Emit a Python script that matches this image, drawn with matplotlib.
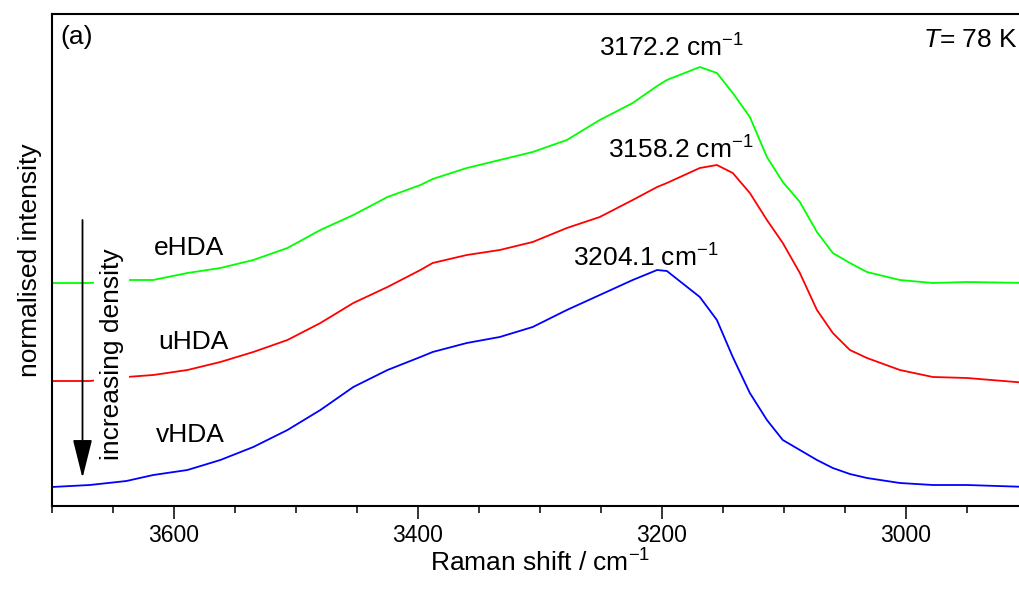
import matplotlib
matplotlib.use('Agg')
import matplotlib.pyplot as plt
from matplotlib.ticker import MultipleLocator

# raman OH-stretch spectra of the HDA states
# y values are the stacked (offset) normalised intensities
wavenumber = [3700, 3669, 3639, 3617, 3589, 3562, 3535, 3507, 3480, 3453,
              3425, 3398, 3388, 3360, 3333, 3306, 3278, 3251, 3224, 3204,
              3196, 3169, 3155, 3142, 3128, 3114, 3101, 3087, 3073, 3060,
              3046, 3032, 3005, 2978, 2950, 2900]

eHDA = [2.23, 2.23, 2.26, 2.26, 2.33, 2.38, 2.46, 2.58, 2.76, 2.91,
        3.09, 3.21, 3.27, 3.38, 3.46, 3.54, 3.66, 3.86, 4.03, 4.20,
        4.26, 4.39, 4.33, 4.13, 3.89, 3.49, 3.24, 3.04, 2.74, 2.53,
        2.43, 2.34, 2.26, 2.23, 2.24, 2.23]

uHDA = [1.25, 1.25, 1.29, 1.31, 1.36, 1.44, 1.54, 1.66, 1.83, 2.03,
        2.19, 2.36, 2.43, 2.51, 2.56, 2.64, 2.78, 2.89, 3.06, 3.19,
        3.23, 3.38, 3.41, 3.33, 3.13, 2.86, 2.63, 2.33, 1.96, 1.73,
        1.56, 1.48, 1.36, 1.29, 1.28, 1.23]

vHDA = [0.19, 0.21, 0.25, 0.31, 0.36, 0.46, 0.59, 0.76, 0.96, 1.19,
        1.36, 1.49, 1.54, 1.63, 1.69, 1.79, 1.96, 2.11, 2.26, 2.36,
        2.35, 2.09, 1.86, 1.49, 1.13, 0.86, 0.66, 0.56, 0.46, 0.38,
        0.32, 0.28, 0.23, 0.21, 0.21, 0.19]

names = ['eHDA', 'uHDA', 'vHDA']
colours = ['#00ff00', '#ff0000', '#0000ff']
peak_labels = ['3172.2', '3158.2', '3204.1']

plt.rcParams['font.family'] = ['Liberation Sans', 'DejaVu Sans']
plt.rcParams['mathtext.fontset'] = 'custom'
plt.rcParams['mathtext.rm'] = 'Liberation Sans'
plt.rcParams['mathtext.it'] = 'Liberation Sans:italic'

fig = plt.figure(figsize=(10.2, 5.96), dpi=100)
# axes runs past the right edge of the figure (right spine is cut off in the original)
ax = fig.add_axes([52/1020, 1-506/596, 976/1020, 492/596])

for spec, col in zip([eHDA, uHDA, vHDA], colours):
    ax.plot(wavenumber, spec, color=col, lw=1.3, zorder=2)

ax.set_xlim(3700, 2900)
ax.set_ylim(0, 4.92)

# ticks - only bottom axis, outward
ax.xaxis.set_major_locator(MultipleLocator(200))
ax.xaxis.set_minor_locator(MultipleLocator(50))
ax.tick_params(axis='x', which='major', direction='out', length=9, width=1.1,
               labelsize=16.5, pad=4)
ax.tick_params(axis='x', which='minor', direction='out', length=5, width=1.1)
ax.tick_params(axis='y', left=False, labelleft=False)
for s in ax.spines.values():
    s.set_linewidth(1.5)

ax.set_xlabel('Raman shift / cm$^{\\mathrm{-1}}$', fontsize=19, labelpad=2)
ax.set_ylabel('normalised intensity', fontsize=19, labelpad=7)

# sample names
ax.text(3588, 2.58, 'eHDA', fontsize=19, ha='center', va='center')
ax.text(3584, 1.64, 'uHDA', fontsize=19, ha='center', va='center')
ax.text(3587, 0.71, 'vHDA', fontsize=19, ha='center', va='center')

# peak positions
ax.text(3192, 4.58, peak_labels[0] + ' cm$^{-1}$', fontsize=19, ha='center', va='center')
ax.text(3185, 3.56, peak_labels[1] + ' cm$^{-1}$', fontsize=19, ha='center', va='center')
ax.text(3213, 2.48, peak_labels[2] + ' cm$^{-1}$', fontsize=19, ha='center', va='center')

ax.text(2908, 4.66, '$T$= 78 K', fontsize=19, ha='right', va='center')
ax.text(3680, 4.69, '(a)', fontsize=19, ha='center', va='center')

# density arrow + label (white box hides the curves behind it)
ax.annotate('', xy=(3675, 0.28), xytext=(3675, 2.86),
            arrowprops=dict(arrowstyle='-|>,head_length=1.2,head_width=0.3',
                            mutation_scale=20, color='black', lw=1.3, shrinkA=0, shrinkB=0))
ax.text(3651, 1.52, 'increasing density', fontsize=19, rotation=90, ha='center', va='center',
        bbox=dict(facecolor='white', edgecolor='none', pad=4), zorder=3)

fig.savefig('out.png', dpi=100)
